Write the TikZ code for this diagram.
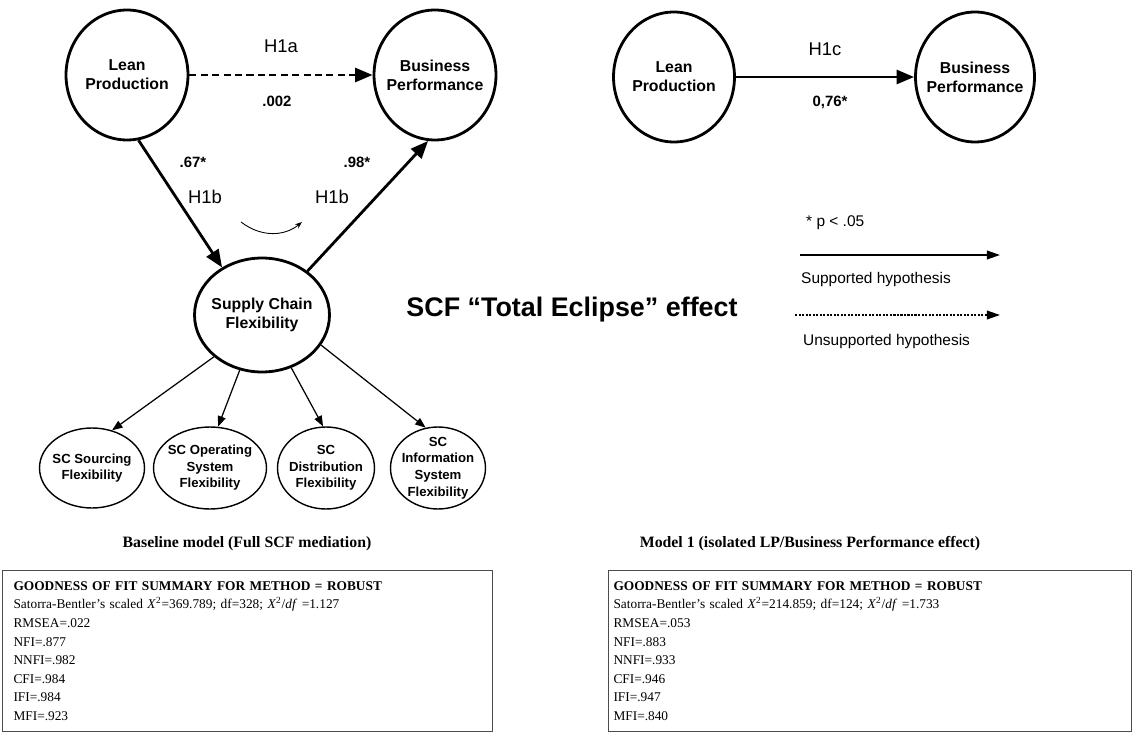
\documentclass[tikz,border=0pt]{standalone}
\usepackage{fontspec}
\setmainfont{Liberation Serif}
\setsansfont{Liberation Sans}
\usetikzlibrary{shapes.geometric,arrows.meta}

\tikzset{
  latent/.style={draw, ellipse, inner sep=0pt, line width=1.6pt},
  indic/.style={draw, ellipse, inner sep=0pt, line width=0.8pt},
  vartext/.style={font=\sffamily\bfseries\fontsize{9}{10.8}\selectfont, align=center},
  subtext/.style={font=\sffamily\bfseries\fontsize{7.5}{9.4}\selectfont, align=center},
  hyp/.style={font=\sffamily\fontsize{10.5}{12}\selectfont},
  coef/.style={font=\sffamily\bfseries\fontsize{8.5}{10}\selectfont},
  mainarrow/.style={line width=1.6pt, -{Triangle[length=10pt,width=8pt]}},
  subarrow/.style={line width=0.7pt, -{Triangle[length=6pt,width=4.5pt]}},
  legarrow/.style={line width=0.8pt, -{Triangle[length=7.5pt,width=5pt]}},
  legtext/.style={font=\sffamily\fontsize{8.8}{10}\selectfont, anchor=west},
  caption/.style={font=\bfseries\fontsize{9}{11}\selectfont},
  fitbox/.style={draw=black!70, line width=0.6pt, anchor=north west, align=left,
    minimum height=3.22cm, font=\fontsize{7.6}{10.6}\selectfont}
}

\begin{document}
\begin{tikzpicture}[x=0.02cm, y=-0.02cm]
\useasboundingbox (0,0) rectangle (1132,733);

% baseline model
\node[latent, minimum width=2.44cm, minimum height=2.6cm, label={[vartext]center:Lean\\Production}] (lp) at (127,75) {};
\node[latent, minimum width=2.44cm, minimum height=2.6cm, label={[vartext]center:Business\\Performance}] (bp) at (435,75) {};
\node[latent, minimum width=2.7cm, minimum height=2.28cm, label={[vartext]center:Supply Chain\\Flexibility}] (scf) at (262,315) {};

\node[indic, minimum width=2.1cm, minimum height=1.6cm, label={[subtext]center:SC Sourcing\\Flexibility}] (src) at (92,468) {};
\node[indic, minimum width=2.26cm, minimum height=1.64cm, label={[subtext]center:SC Operating\\System\\Flexibility}] (sos) at (210,468) {};
\node[indic, minimum width=1.94cm, minimum height=1.64cm, label={[subtext]center:SC\\Distribution\\Flexibility}] (sdf) at (326,468) {};
\node[indic, minimum width=1.9cm, minimum height=1.64cm, label={[subtext]center:SC\\Information\\System\\Flexibility}] (sif) at (438,468) {};

\draw[mainarrow, dash pattern=on 4pt off 2.5pt] (lp) -- (bp);
\draw[mainarrow] (lp.-80) -- (scf.130);
\draw[mainarrow] (scf.44) -- (bp.-96);
\draw[subarrow] (scf.-139) -- (src.62);
\draw[subarrow] (scf.-112) -- (sos.79);
\draw[subarrow] (scf.-61) -- (sdf.94);
\draw[subarrow] (scf.-27) -- (sif.107);

\node[hyp] (h1a) at (281,46) {H1a};
\node[coef] (c1a) at (277,101) {.002};
\node[coef] (c1b) at (193,162) {.67*};
\node[hyp] (h1bl) at (205,197) {H1b};
\node[coef] (c1d) at (357,162) {.98*};
\node[hyp] (h1br) at (332,197) {H1b};
\coordinate (cs) at (241,222);
\coordinate (ce) at (302,222);
\draw[line width=0.5pt, -{Stealth[length=4pt,width=3pt]}] (cs) .. controls (262,238) and (285,236) .. (ce);

% model 1
\node[latent, minimum width=2.42cm, minimum height=2.6cm, label={[vartext]center:Lean\\Production}] (lp2) at (674,77) {};
\node[latent, minimum width=2.38cm, minimum height=2.6cm, label={[vartext]center:Business\\Performance}] (bp2) at (975,77) {};
\draw[mainarrow] (lp2) -- (bp2);
\node[hyp] (h1c) at (825,49) {H1c};
\node[coef] (c1c) at (830,102) {0,76*};

\node[font=\sffamily\bfseries\fontsize{15.3}{18}\selectfont] (eclipse) at (572,310) {SCF “Total Eclipse” effect};

% legend
\node[legtext] (sig) at (800,223) {* p < .05};
\coordinate (sa) at (800,255);
\coordinate (sb) at (1000,255);
\draw[legarrow] (sa) -- (sb);
\node[legtext] (sup) at (795,280) {Supported hypothesis};
\coordinate (ua) at (795,315);
\coordinate (ub) at (1000,315);
\draw[legarrow, dash pattern=on 1.2pt off 0.8pt] (ua) -- (ub);
\node[legtext] (uns) at (797,342) {Unsupported hypothesis};

% fit summaries
\node[caption] (cap0) at (247,544) {Baseline model (Full SCF mediation)};
\node[caption] (cap1) at (810,544) {Model 1 (isolated LP/Business Performance effect)};

\node[fitbox, inner xsep=0.22cm, text width=9.36cm] (fit0) at (2,570) {%
\textbf{GOODNESS OF FIT SUMMARY FOR METHOD = ROBUST}\\
Satorra-Bentler’s scaled \textit{X}\textsuperscript{2}=369.789; df=328; \textit{X}\textsuperscript{2}/\textit{df} =1.127\\
RMSEA=.022\\
NFI=.877\\
NNFI=.982\\
CFI=.984\\
IFI=.984\\
MFI=.923};
\node[fitbox, inner xsep=0.1cm, text width=10.26cm] (fit1) at (608,570) {%
\textbf{GOODNESS OF FIT SUMMARY FOR METHOD = ROBUST}\\
Satorra-Bentler’s scaled \textit{X}\textsuperscript{2}=214.859; df=124; \textit{X}\textsuperscript{2}/\textit{df} =1.733\\
RMSEA=.053\\
NFI=.883\\
NNFI=.933\\
CFI=.946\\
IFI=.947\\
MFI=.840};
\end{tikzpicture}
\end{document}
